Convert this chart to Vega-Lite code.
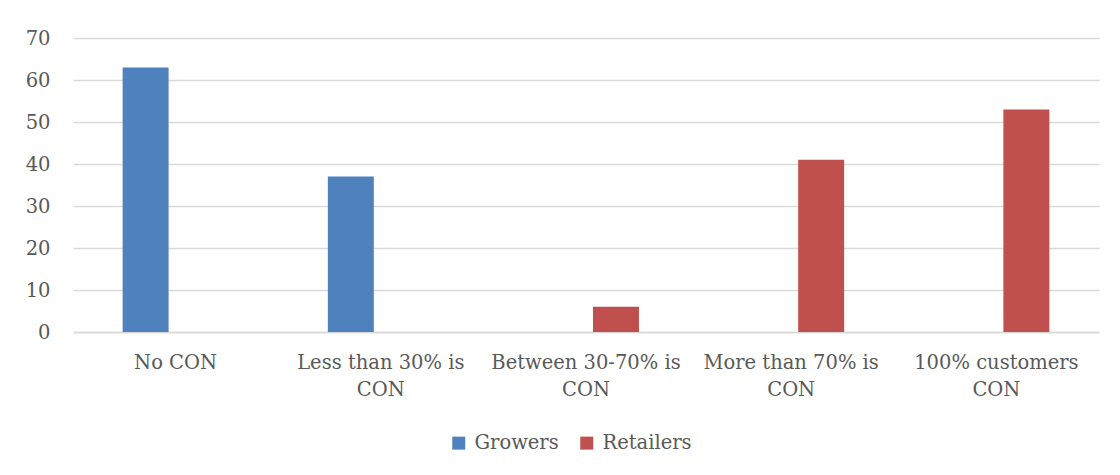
{
  "$schema": "https://vega.github.io/schema/vega-lite/v6.json",
  "width": 1026,
  "height": 294,
  "autosize": "none",
  "padding": {"left": 73, "top": 38, "right": 21, "bottom": 143},
  "background": "white",
  "data": {
    "values": [
      {"category": "No CON", "group": "Growers", "value": 63},
      {"category": "Less than 30% is CON", "group": "Growers", "value": 37},
      {"category": "Between 30-70% is CON", "group": "Retailers", "value": 6},
      {"category": "More than 70% is CON", "group": "Retailers", "value": 41},
      {"category": "100% customers CON", "group": "Retailers", "value": 53}
    ]
  },
  "mark": {"type": "bar"},
  "encoding": {
    "x": {
      "field": "category",
      "type": "nominal",
      "sort": null,
      "scale": {"paddingInner": 0, "paddingOuter": 0},
      "axis": {
        "title": null,
        "labelAngle": 0,
        "ticks": false,
        "domain": true,
        "domainColor": "#d9d9d9",
        "domainWidth": 1.5,
        "labelFont": "DejaVu Serif",
        "labelFontSize": 19.5,
        "labelColor": "#595959",
        "labelPadding": 21,
        "labelLineHeight": 27,
        "labelLimit": 300,
        "labelExpr": "datum.label === 'No CON' ? datum.label : [slice(datum.label, 0, lastindexof(datum.label, ' ')), 'CON']"
      }
    },
    "xOffset": {
      "field": "group",
      "type": "nominal",
      "scale": {"domain": ["Growers", "Retailers"], "paddingInner": 0.233, "paddingOuter": 0.828}
    },
    "y": {
      "field": "value",
      "type": "quantitative",
      "scale": {"domain": [0, 70]},
      "axis": {
        "title": null,
        "values": [0, 10, 20, 30, 40, 50, 60, 70],
        "domain": false,
        "ticks": false,
        "grid": true,
        "gridColor": "#d9d9d9",
        "gridWidth": 1.5,
        "labelFont": "DejaVu Serif",
        "labelFontSize": 19.5,
        "labelColor": "#595959",
        "labelPadding": 23
      }
    },
    "color": {
      "field": "group",
      "type": "nominal",
      "scale": {"domain": ["Growers", "Retailers"], "range": ["#4F81BD", "#C0504D"]},
      "legend": {
        "title": null,
        "orient": "none",
        "direction": "horizontal",
        "legendX": 376,
        "legendY": 395,
        "symbolType": "square",
        "symbolSize": 169,
        "symbolStrokeWidth": 0,
        "labelFont": "DejaVu Serif",
        "labelFontSize": 19.5,
        "labelColor": "#595959",
        "labelOffset": 6,
        "columnPadding": 18
      }
    }
  },
  "config": {
    "view": {"stroke": null}
  }
}
